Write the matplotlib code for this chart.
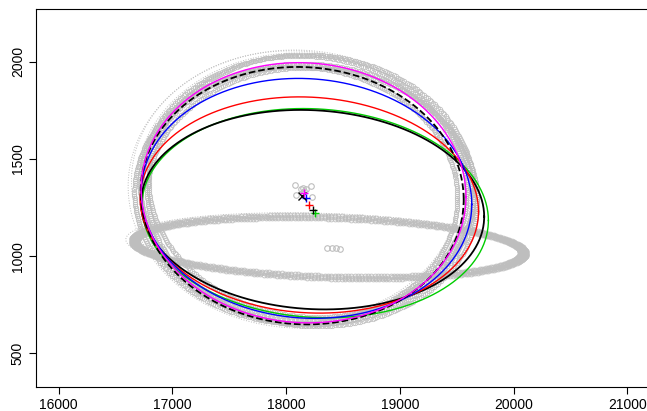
import numpy as np
import matplotlib.pyplot as plt

plt.rcParams['font.family'] = ['Liberation Sans', 'DejaVu Sans']

# fitted ellipses: centre, half width, half height, correlation
fit_cols = ['#00CD00', 'black', 'red', 'blue', 'black', 'magenta']
fit_styles = ['-', '-', '-', '-', '--', '-']
fit_marks = ['+', '+', '+', '+', 'x', '+']
fit_cx = [18254, 18232, 18203, 18178, 18140, 18152]
fit_cy = [1221, 1239, 1263, 1297, 1311, 1326]
fit_w = [1523, 1508, 1487, 1453, 1420, 1428]
fit_h = [538, 513, 556, 617, 662, 669]
fit_rho = [-0.07, -0.07, -0.06, -0.05, -0.03, -0.03]

# gray bootstrap ellipses (dotted)
gray_cx = [18079, 18220, 18085, 18229, 18150, 18120, 18180, 18150, 18100, 18200]
gray_cy = [1366, 1362, 1314, 1305, 1340, 1330, 1320, 1350, 1345, 1335]
gray_w = [1440, 1430, 1420, 1450, 1470, 1400, 1460, 1435, 1490, 1410]
gray_h = [690, 675, 660, 665, 705, 640, 670, 680, 715, 650]
gray_rho = [-0.03, -0.04, -0.02, -0.03, -0.03, -0.05, -0.02, -0.03, -0.02, -0.04]
# which of them are also drawn with point symbols
gray_pts = [1, 2, 3, 6, 7]

# flat ellipse made of points
flat_cx = 18375
flat_cy = 1046
flat_w = [1685, 1710, 1735]
flat_h = [150, 157, 164]
flat_rho = -0.2

# small point clusters
clus_x = [18079, 18220, 18085, 18229, 18130, 18160, 18150, 18140, 18170,
          18360, 18400, 18440, 18470]
clus_y = [1366, 1362, 1314, 1305, 1345, 1335, 1350, 1325, 1345,
          1040, 1043, 1040, 1038]


def ellipse_xy(cx, cy, w, h, rho, n=300):
    t = np.linspace(0, 2 * np.pi, n)
    x = cx + w * np.cos(t)
    y = cy + h * (rho * np.cos(t) + np.sqrt(1 - rho ** 2) * np.sin(t))
    return x, y


fig = plt.figure(figsize=(6.47, 4.11), dpi=100)
ax = fig.add_axes([36 / 647, 24 / 411, 637 / 647, 378 / 411])

gray = '#BEBEBE'
for i in range(len(gray_cx)):
    x, y = ellipse_xy(gray_cx[i], gray_cy[i], gray_w[i], gray_h[i], gray_rho[i])
    ax.plot(x, y, ':', color=gray, lw=0.7)
    if i in gray_pts:
        x, y = ellipse_xy(gray_cx[i], gray_cy[i], gray_w[i], gray_h[i], gray_rho[i], n=400)
        ax.plot(x, y, 'o', mfc='none', mec=gray, ms=3.2, mew=0.5)

for i in range(len(flat_w)):
    x, y = ellipse_xy(flat_cx, flat_cy, flat_w[i], flat_h[i], flat_rho, n=360)
    ax.plot(x, y, 'o', mfc='none', mec=gray, ms=3.5, mew=0.6)
x, y = ellipse_xy(flat_cx - 20, flat_cy + 5, 1765, 172, flat_rho)
ax.plot(x, y, ':', color=gray, lw=0.7)

ax.plot(clus_x, clus_y, 'o', mfc='none', mec=gray, ms=4, mew=0.8)

for i in range(len(fit_cx)):
    x, y = ellipse_xy(fit_cx[i], fit_cy[i], fit_w[i], fit_h[i], fit_rho[i])
    lw = 1.3 if fit_cols[i] == 'black' else 1.0
    ax.plot(x, y, fit_styles[i], color=fit_cols[i], lw=lw)
    ax.plot(fit_cx[i], fit_cy[i], fit_marks[i], color=fit_cols[i], ms=6, mew=1.0)

ax.set_xlim(15800, 21400)
ax.set_ylim(327, 2271)
ax.set_xticks([16000, 17000, 18000, 19000, 20000, 21000])
ax.set_yticks([500, 1000, 1500, 2000])
ax.tick_params(direction='out', length=5, width=0.8, labelsize=10, pad=3)
for lab in ax.get_yticklabels():
    lab.set_rotation(90)
    lab.set_va('center')
for s in ax.spines.values():
    s.set_linewidth(0.8)

fig.savefig('out.png', dpi=100)
